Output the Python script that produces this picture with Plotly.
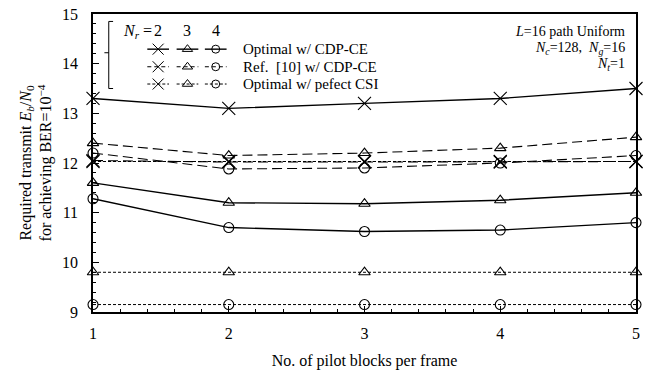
import plotly.graph_objects as go

x_blocks = [1, 2, 3, 4, 5]

# Optimal w/ CDP-CE (solid)
opt_nr2 = [13.3, 13.1, 13.2, 13.3, 13.5]
opt_nr3 = [11.6, 11.2, 11.18, 11.25, 11.4]
opt_nr4 = [11.28, 10.7, 10.62, 10.65, 10.8]
# Ref. [10] w/ CDP-CE (dashed)
ref_nr2 = [12.05, 12.02, 12.02, 12.02, 12.03]
ref_nr3 = [12.4, 12.15, 12.2, 12.3, 12.52]
ref_nr4 = [12.2, 11.88, 11.9, 12.0, 12.15]
# Optimal w/ perfect CSI (dotted)
csi_nr2 = [12.03, 12.03, 12.03, 12.03, 12.03]
csi_nr3 = [9.8, 9.8, 9.8, 9.8, 9.8]
csi_nr4 = [9.15, 9.15, 9.15, 9.15, 9.15]

x_ticks = [1, 2, 3, 4, 5]
y_ticks = [9, 10, 11, 12, 13, 14, 15]
nr_values = [2, 3, 4]

FONT = "Liberation Serif, Tinos, Times New Roman, DejaVu Serif, serif"
BLACK = "#000000"
symbols = {2: "x-thin-open", 3: "triangle-up-open", 4: "circle-open"}
sizes = {2: 13, 3: 10, 4: 10}
leg_sizes = {2: 11, 3: 9, 4: 8}
styles = {"solid": ("solid", 1.4), "dash": ("10px,5px", 1.1), "dot": ("3px,2px", 1.0)}

series = [
    (opt_nr2, 2, "solid"), (opt_nr3, 3, "solid"), (opt_nr4, 4, "solid"),
    (ref_nr2, 2, "dash"), (ref_nr3, 3, "dash"), (ref_nr4, 4, "dash"),
    (csi_nr2, 2, "dot"), (csi_nr3, 3, "dot"), (csi_nr4, 4, "dot"),
]

fig = go.Figure()
for vals, nr, st in series:
    dash, w = styles[st]
    fig.add_trace(go.Scatter(
        x=x_blocks, y=vals, mode="lines+markers",
        line=dict(color=BLACK, width=w, dash=dash),
        marker=dict(symbol=symbols[nr], size=sizes[nr], color=BLACK,
                    line=dict(color=BLACK, width=1.1)),
        showlegend=False, cliponaxis=False,
    ))

# Legend block on an overlay axis (0..1 over plot area)
legend_rows = [("solid", "Optimal w/ CDP-CE"), ("dash", "Ref.  [10] w/ CDP-CE"),
               ("dot", "Optimal w/ pefect CSI")]
row_y = [0.882, 0.823, 0.765]
col_x = {2: 0.12, 3: 0.174, 4: 0.226}
half = 0.02
for (st, label), ry in zip(legend_rows, row_y):
    dash, w = styles[st]
    for nr in nr_values:
        cx = col_x[nr]
        fig.add_trace(go.Scatter(
            x=[cx - half, cx + half], y=[ry, ry], xaxis="x2", yaxis="y2",
            mode="lines", line=dict(color=BLACK, width=w,
                                    dash=dash if st != "dash" else "4px,3px"),
            showlegend=False, hoverinfo="skip"))
        fig.add_trace(go.Scatter(
            x=[cx], y=[ry], xaxis="x2", yaxis="y2", mode="markers",
            marker=dict(symbol=symbols[nr], size=leg_sizes[nr], color=BLACK,
                        line=dict(color=BLACK, width=1.0)),
            showlegend=False, hoverinfo="skip"))
    fig.add_annotation(x=0.272, y=ry, xref="x2", yref="y2", text=label,
                       showarrow=False, xanchor="left", yanchor="middle",
                       font=dict(family=FONT, size=15, color=BLACK))

fig.add_annotation(x=0.113, y=0.94, xref="x2", yref="y2",
                   text="<i>N<sub>r</sub></i> =", showarrow=False,
                   xanchor="right", yanchor="middle",
                   font=dict(family=FONT, size=16, color=BLACK))
for nr in nr_values:
    fig.add_annotation(x=col_x[nr], y=0.945, xref="x2", yref="y2",
                       text=str(nr), showarrow=False,
                       xanchor="center", yanchor="middle",
                       font=dict(family=FONT, size=16, color=BLACK))

# bracket
bx = 0.029
for (x0, y0, x1, y1) in [(bx, 0.975, bx, 0.75), (bx, 0.975, bx + 0.008, 0.975),
                         (bx, 0.75, bx + 0.008, 0.75), (bx - 0.008, 0.87, bx, 0.87)]:
    fig.add_shape(type="line", x0=x0, y0=y0, x1=x1, y1=y1, xref="x2", yref="y2",
                  line=dict(color=BLACK, width=1))

# parameters text (top right)
params = ["<i>L</i>=16 path Uniform",
          "<i>N<sub>c</sub></i>=128,  <i>N<sub>g</sub></i>=16",
          "<i>N<sub>t</sub></i>=1"]
for t, py in zip(params, [0.94, 0.885, 0.83]):
    fig.add_annotation(x=0.984, y=py, xref="x2", yref="y2", text=t, showarrow=False,
                       xanchor="right", yanchor="middle",
                       font=dict(family=FONT, size=14, color=BLACK))

fig.update_layout(
    width=650, height=372, autosize=False,
    margin=dict(l=93, r=14, t=14, b=60),
    paper_bgcolor="white", plot_bgcolor="white",
    font=dict(family=FONT, size=16, color=BLACK),
    xaxis=dict(range=[1, 5], tickvals=x_ticks, ticks="inside", ticklen=6,
               tickwidth=1.2, tickcolor=BLACK, showgrid=False, zeroline=False,
               showline=True, linecolor=BLACK, linewidth=1.5, mirror=True,
               automargin=False,
               minor=dict(dtick=0.2, ticks="inside", ticklen=3, tickcolor=BLACK),
               tickfont=dict(family=FONT, size=16), ticklabelstandoff=6,
               title=dict(text="No. of pilot blocks per frame", standoff=14,
                          font=dict(family=FONT, size=16))),
    yaxis=dict(range=[9, 15], tickvals=y_ticks, ticks="inside", ticklen=6,
               tickwidth=1.2, tickcolor=BLACK, showgrid=False, zeroline=False,
               showline=True, linecolor=BLACK, linewidth=1.5, mirror=True,
               automargin=False,
               minor=dict(dtick=0.2, ticks="inside", ticklen=3, tickcolor=BLACK),
               tickfont=dict(family=FONT, size=16), ticklabelstandoff=10,
               title=dict(text="Required transmit <i>E<sub>b</sub></i>/<i>N</i><sub>0</sub><br>for achieving BER=10<sup>−4</sup>",
                          standoff=6, font=dict(family=FONT, size=16))),
    xaxis2=dict(range=[0, 1], overlaying="x", visible=False, fixedrange=True),
    yaxis2=dict(range=[0, 1], overlaying="y", visible=False, fixedrange=True),
)

fig.write_html("out.html", config={"displayModeBar": False},
               post_script="document.body.style.margin='0';document.body.style.padding='0';")
